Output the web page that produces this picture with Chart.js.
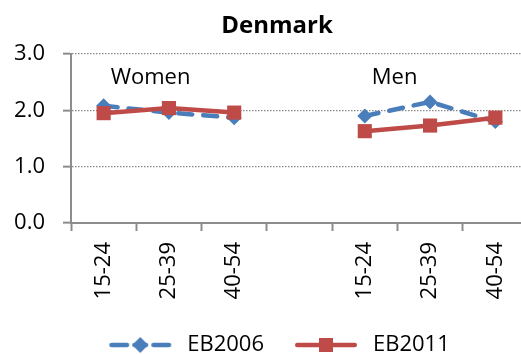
<!DOCTYPE html>
<html>
<head>
<meta charset="utf-8">
<script src="https://cdn.jsdelivr.net/npm/chart.js@4.4.1/dist/chart.umd.min.js"></script>
<style>
  html, body { margin: 0; padding: 0; background: #fff; overflow: hidden; width: 521px; height: 354px; }
  #wrap { position: absolute; left: 0; top: 0; width: 560px; height: 366px; }
</style>
</head>
<body>
<div id="wrap"><canvas id="c" width="560" height="366"></canvas></div>
<script>
// Mean scores by sex and age group, Denmark
const chartTitle = 'Denmark';
const categories = ['15-24', '25-39', '40-54', '', '15-24', '25-39', '40-54'];
const groupNames = ['Women', 'Men'];
const groupStarts = [0, 4];           // category index where each group begins
const seriesNames = ['EB2006', 'EB2011'];
const eb2006 = [2.08, 1.96, 1.87, null, 1.90, 2.15, 1.80];
const eb2011 = [1.95, 2.04, 1.96, null, 1.63, 1.73, 1.87];
const yTickValues = [0, 1, 2, 3];

const BLUE = '#4A7EBB';
const RED = '#BE4B48';
const AXIS = '#8C8C8C';
const GRID = '#8A8A8A';
const FONT = 'Open Sans';

// Line-and-marker swatch used as the legend point style
function makeSwatch(color, dashed, marker) {
  const c = document.createElement('canvas');
  c.width = 72; c.height = 22;
  const g = c.getContext('2d');
  g.strokeStyle = color; g.fillStyle = color;
  g.lineWidth = 4.5; g.lineCap = 'round';
  const cy = 11;
  const segs = dashed ? [[7.25, 22.75], [30.25, 41.75], [49.25, 64.75]] : [[7.25, 64.75]];
  segs.forEach(([a, b]) => { g.beginPath(); g.moveTo(a, cy); g.lineTo(b, cy); g.stroke(); });
  g.beginPath();
  if (marker === 'diamond') {
    g.moveTo(36, cy - 8); g.lineTo(44, cy); g.lineTo(36, cy + 8); g.lineTo(28, cy);
  } else {
    g.rect(29, cy - 7, 14, 14);
  }
  g.closePath(); g.fill();
  return c;
}

const groupLabelPlugin = {
  id: 'groupLabels',
  afterDatasetsDraw(chart) {
    const { ctx, scales: { x, y } } = chart;
    ctx.save();
    ctx.font = `22px "${FONT}"`;
    ctx.fillStyle = '#000';
    ctx.textAlign = 'left';
    ctx.textBaseline = 'middle';
    groupNames.forEach((name, i) => {
      ctx.fillText(name, x.getPixelForValue(groupStarts[i]) + 7, y.getPixelForValue(2.57));
    });
    ctx.restore();
  }
};

function draw() {
  const swatches = [makeSwatch(BLUE, true, 'diamond'), makeSwatch(RED, false, 'square')];
  new Chart(document.getElementById('c'), {
    type: 'line',
    data: {
      labels: categories,
      datasets: [
        {
          label: seriesNames[0], data: eb2006, order: 1,
          borderColor: BLUE, borderWidth: 4.5, borderDash: [14, 11], borderCapStyle: 'round',
          pointStyle: 'rectRot', pointRadius: 7.5, pointBackgroundColor: BLUE, pointBorderWidth: 0,
          tension: 0, spanGaps: false
        },
        {
          label: seriesNames[1], data: eb2011, order: 0,
          borderColor: RED, borderWidth: 4.5, borderCapStyle: 'round',
          pointStyle: 'rect', pointRadius: 10, pointBackgroundColor: RED, pointBorderWidth: 0,
          tension: 0, spanGaps: false
        }
      ]
    },
    options: {
      responsive: false,
      devicePixelRatio: 1,
      animation: false,
      events: [],
      layout: { padding: { left: 13, right: 19, top: 0, bottom: 0 } },
      plugins: {
        tooltip: { enabled: false },
        title: {
          display: true, text: chartTitle, color: '#000',
          font: { family: FONT, size: 24, weight: 'bold' },
          padding: { top: 12, bottom: 13.2 }
        },
        legend: {
          position: 'bottom',
          labels: {
            usePointStyle: true, pointStyleWidth: 72, padding: 26,
            color: '#000', font: { family: FONT, size: 22 },
            generateLabels: () => seriesNames.map((name, i) => ({
              text: name, pointStyle: swatches[i], fillStyle: 'transparent',
              strokeStyle: 'transparent', lineWidth: 0, hidden: false, datasetIndex: i
            }))
          }
        }
      },
      scales: {
        x: {
          type: 'category', offset: true,
          grid: { display: true, drawOnChartArea: false, drawTicks: true, offset: true,
                  tickLength: 8, tickColor: AXIS, tickWidth: 2 },
          border: { display: true, color: AXIS, width: 2 },
          ticks: { autoSkip: false, minRotation: 90, maxRotation: 90, padding: 11,
                   color: '#000', font: { family: FONT, size: 22 } },
          afterFit(scale) {
            scale.height = scale.chart.height - scale.chart.legend.height - 223;
          }
        },
        y: {
          min: yTickValues[0], max: yTickValues[yTickValues.length - 1],
          afterBuildTicks(scale) { scale.ticks = yTickValues.map(v => ({ value: v })); },
          ticks: { padding: 18, color: '#000', font: { family: FONT, size: 22 },
                   callback: v => Number(v).toFixed(1) },
          grid: {
            color: ctx => (ctx.tick && ctx.tick.value === 0) ? 'rgba(0,0,0,0)' : GRID,
            lineWidth: 1.3, tickLength: 8, tickColor: AXIS, tickWidth: 2, tickBorderDash: []
          },
          border: { display: true, color: AXIS, width: 2, dash: [1.5, 1.5] },
          afterFit(scale) { scale.width = 58; }
        },
        // empty right-hand gutter so the plot stops short of the canvas edge
        gutter: {
          type: 'linear', position: 'right', display: true,
          grid: { display: false }, border: { display: false }, ticks: { display: false },
          afterFit(scale) { scale.width = 13; }
        }
      }
    },
    plugins: [groupLabelPlugin]
  });
}

Promise.all([
  document.fonts.load(`22px "${FONT}"`),
  document.fonts.load(`bold 24px "${FONT}"`)
]).then(draw, draw);
</script>
</body>
</html>
